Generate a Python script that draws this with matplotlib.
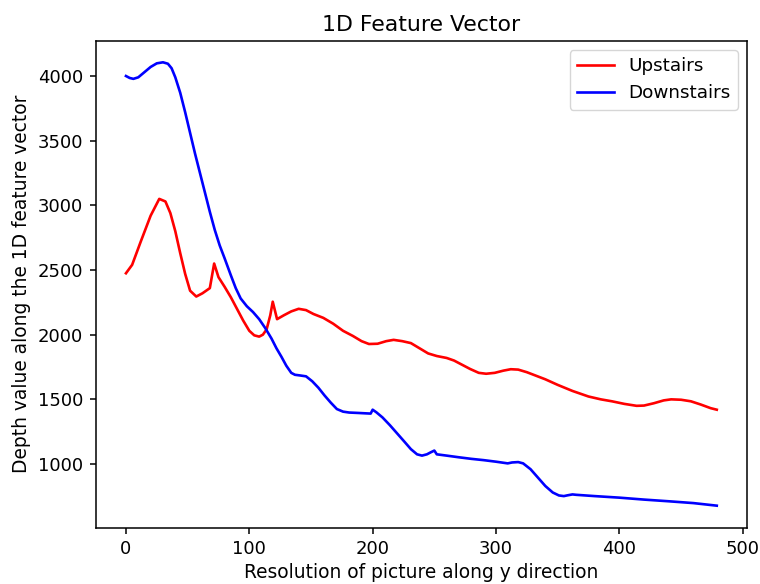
import matplotlib.pyplot as plt

# Upstairs (red)
up_x = [0, 5, 12, 20, 27, 32, 36, 40, 44, 48, 52, 57, 62, 68, 71.5, 75, 80, 85, 90, 95, 100, 104, 108,
        111, 114, 117, 119, 122.5, 128, 134, 140, 146, 152, 160, 168, 176, 184, 191, 197, 204, 211,
        217, 224, 231, 238, 245, 252, 260, 266, 272, 279, 286, 292, 299, 306, 312, 318, 325, 331,
        340, 350, 362, 375, 385, 394, 404, 414, 420, 428, 436, 442, 450, 458, 466, 474, 479]
up_y = [2475, 2540, 2720, 2920, 3050, 3030, 2940, 2800, 2630, 2470, 2340, 2295, 2320, 2360, 2550,
        2445, 2370, 2290, 2200, 2110, 2030, 1995, 1985, 2000, 2040, 2150, 2255, 2120, 2150, 2180,
        2200, 2190, 2160, 2130, 2085, 2030, 1990, 1950, 1928, 1930, 1950, 1960, 1950, 1935, 1895,
        1855, 1835, 1820, 1800, 1770, 1735, 1705, 1698, 1705, 1722, 1733, 1730, 1710, 1688, 1655,
        1612, 1565, 1522, 1500, 1485, 1465, 1450, 1452, 1470, 1492, 1500, 1497, 1485, 1460, 1432, 1420]

# Downstairs (blue)
down_x = [0, 3, 6, 10, 15, 20, 25, 30, 34, 37, 40, 44, 48, 52, 56, 60, 64, 68, 72, 76, 80, 85, 89,
          93, 98, 103, 108, 113, 118, 122, 126, 130, 134, 137, 141, 146, 151, 156, 161, 166, 171, 176,
          181, 188, 194, 198.4, 200, 203, 208, 214, 220, 226, 231, 236, 240, 244, 247, 250, 252, 260,
          270, 280, 290, 300, 309.5, 313, 318, 322, 328, 334, 340, 346, 351, 355, 358, 362, 365,
          380, 400, 420, 440, 460, 479]
down_y = [4000, 3985, 3978, 3990, 4030, 4070, 4098, 4106, 4095, 4060, 3990, 3870, 3720, 3560, 3400,
          3250, 3100, 2950, 2810, 2690, 2590, 2460, 2360, 2280, 2220, 2175, 2120, 2050, 1970, 1895,
          1830, 1760, 1705, 1690, 1685, 1678, 1640, 1590, 1530, 1475, 1425, 1405, 1398, 1395, 1392,
          1390, 1420, 1400, 1360, 1300, 1235, 1170, 1115, 1075, 1065, 1075, 1090, 1104, 1075, 1065,
          1052, 1040, 1030, 1018, 1005, 1012, 1015, 1005, 960, 895, 830, 780, 757, 752, 758, 765,
          762, 752, 740, 725, 712, 698, 678]

fig = plt.figure(figsize=(7.6, 5.84), dpi=100)
ax = fig.add_axes([0.1263, 0.0967, 0.8566, 0.8336])

ax.plot(up_x, up_y, color='red', linewidth=1.9, label="Upstairs")
ax.plot(down_x, down_y, color='blue', linewidth=1.9, label="Downstairs")

ax.set_xticks([0, 100, 200, 300, 400, 500])
ax.set_yticks([1000, 1500, 2000, 2500, 3000, 3500, 4000])
ax.set_xlim(-24.3, 503.5)
ax.set_ylim(509, 4273)
ax.tick_params(labelsize=13, length=4.3, width=1.1, pad=5)
for s in ax.spines.values():
    s.set_linewidth(1.1)

ax.set_title("1D Feature Vector", fontsize=15.8, pad=7)
ax.set_xlabel("Resolution of picture along y direction", fontsize=13.4, labelpad=3)
ax.set_ylabel("Depth value along the 1D feature vector", fontsize=13.4, labelpad=5)
ax.legend(fontsize=13.2, loc='upper right')

plt.savefig("out.png", dpi=100)
